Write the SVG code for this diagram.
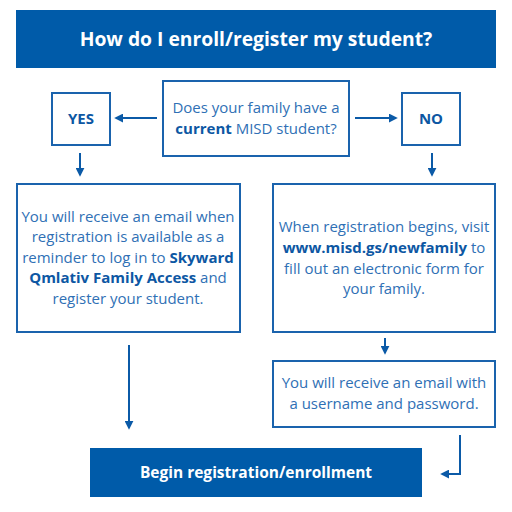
<svg xmlns="http://www.w3.org/2000/svg" width="512" height="512" viewBox="0 0 512 512">
<defs>
<marker id="ah" viewBox="0 0 10 10" refX="8" refY="5" markerWidth="4.5" markerHeight="4.5" orient="auto" markerUnits="strokeWidth">
<path d="M0,0 L10,5 L0,10 z" fill="#0b5aa7"/>
</marker>
<style>
.box{fill:#fff;stroke:#1a63ad;stroke-width:2}
.solid{fill:#005ba9}
.t{font-family:"Open Sans","Liberation Sans",sans-serif;font-size:15px;fill:#2f70b5;text-anchor:middle}
.b{font-weight:bold;fill:#0d57a3}
.w{font-family:"Open Sans","Liberation Sans",sans-serif;font-weight:bold;fill:#fff;text-anchor:middle}
.c{stroke:#0b5aa7;stroke-width:2;fill:none;marker-end:url(#ah)}
</style>
</defs>
<rect width="512" height="512" fill="#fff"/>
<g id="header">
<rect class="solid" x="16" y="10" width="480" height="58"/>
<text class="w" x="256" y="46" font-size="19.3">How do I enroll/register my student?</text>
</g>
<g id="question">
<rect class="box" x="163" y="81" width="186" height="75"/>
<text class="t" x="256" y="113">Does your family have a</text>
<text class="t" x="256" y="134"><tspan class="b">current</tspan> MISD student?</text>
</g>
<g id="yes">
<rect class="box" x="52" y="93" width="58" height="52"/>
<text class="t b" x="81" y="124" font-size="14.5">YES</text>
</g>
<g id="no">
<rect class="box" x="402" y="93" width="58" height="52"/>
<text class="t b" x="431" y="124" font-size="14.5">NO</text>
</g>
<g id="yes-info">
<rect class="box" x="17" y="184" width="223" height="148"/>
<text class="t" x="128" y="222">You will receive an email when</text>
<text class="t" x="128" y="242">registration is available as a</text>
<text class="t" x="128" y="263">reminder to log in to <tspan class="b">Skyward</tspan></text>
<text class="t" x="128" y="283"><tspan class="b">Qmlativ Family Access</tspan> and</text>
<text class="t" x="128" y="304">register your student.</text>
</g>
<g id="no-info">
<rect class="box" x="273" y="184" width="222" height="148"/>
<text class="t" x="384" y="232">When registration begins, visit</text>
<text class="t" x="384" y="253"><tspan class="b">www.misd.gs/newfamily</tspan> to</text>
<text class="t" x="384" y="274">fill out an electronic form for</text>
<text class="t" x="384" y="294">your family.</text>
</g>
<g id="email">
<rect class="box" x="273" y="361" width="222" height="66"/>
<text class="t" x="384" y="388">You will receive an email with</text>
<text class="t" x="384" y="409">a username and password.</text>
</g>
<g id="begin">
<rect class="solid" x="90" y="448" width="332" height="49"/>
<text class="w" x="256" y="478" font-size="15.5">Begin registration/enrollment</text>
</g>
<g id="connectors">
<path class="c" d="M157,118 H116"/>
<path class="c" d="M355,118 H396"/>
<path class="c" d="M80,153 V175"/>
<path class="c" d="M432,153 V175"/>
<path class="c" d="M385,338 V353"/>
<path class="c" d="M129,345 V428"/>
<path class="c" d="M460,435 V474 H442"/>
</g>
</svg>
